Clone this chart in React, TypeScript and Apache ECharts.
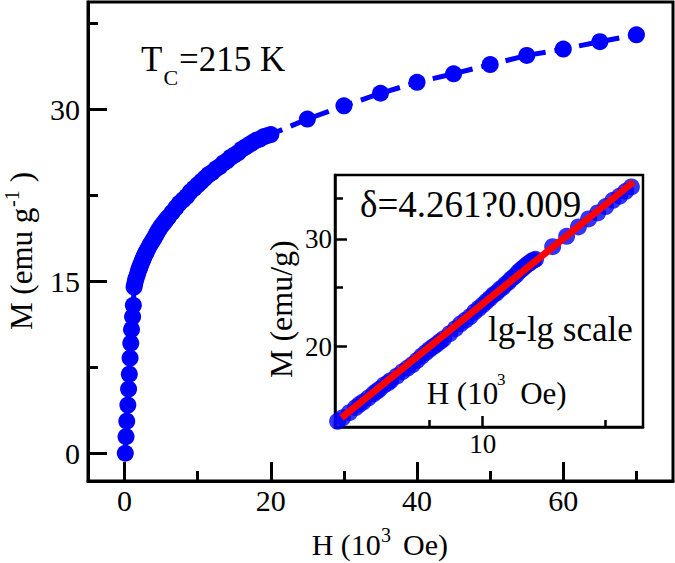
import React, { useEffect, useRef } from "react";
import * as echarts from "echarts";

// Main M–H isotherm (H in 10^3 Oe, M in emu/g)
const fieldH = [
  0.1, 0.2, 0.3, 0.45, 0.55, 0.65, 0.75, 0.85, 0.95, 1.1, 1.2,
  1.3, 1.4, 1.5, 1.6, 1.75, 1.9, 2.0, 2.1, 2.25, 2.4, 2.5, 2.6, 2.75, 2.9, 3.0,
  3.25, 3.5, 3.75, 4.0, 4.25, 4.5, 4.75, 5.0, 5.25, 5.5, 5.75, 6.0, 6.5,
  7.0, 7.5, 8.0, 8.5, 9.0, 9.5, 10.0, 10.5, 11.0, 11.5, 12.0, 12.5, 13.0, 13.5,
  14.0, 14.5, 15.0, 15.5, 16.0, 16.5, 17.0, 17.5, 18.0, 18.5, 19.0, 19.5, 20.0,
  25, 30, 35, 40, 45, 50, 55, 60, 65, 70,
];
const magM = [
  0, 1.45, 2.8, 4.2, 5.6, 6.9, 8.3, 9.6, 10.8, 11.9, 12.9,
  14.5, 14.8, 15.1, 15.3, 15.6, 15.9, 16.1, 16.25, 16.5, 16.75, 16.9, 17.05, 17.3, 17.45, 17.6,
  17.9, 18.2, 18.45, 18.7, 19.0, 19.3, 19.55, 19.8, 20.0, 20.2, 20.4, 20.6, 21.0,
  21.4, 21.8, 22.1, 22.4, 22.8, 23.1, 23.4, 23.7, 24.0, 24.3, 24.5, 24.8, 25.0, 25.3,
  25.5, 25.8, 26.0, 26.2, 26.5, 26.7, 26.9, 27.1, 27.3, 27.4, 27.6, 27.7, 27.8,
  29.15, 30.3, 31.4, 32.35, 33.1, 33.9, 34.7, 35.25, 35.9, 36.5,
];

// Fit line (log-log) end points
const fitH = [1.58, 72];
const fitM = [15.3, 37.2];

// Tick values
const mainXMajor = [0, 20, 40, 60];
const mainXMinor = [10, 30, 50, 70];
const mainYMajor = [0, 15, 30];
const mainYMinor = [7.5, 22.5, 37.5];
const insetXMajor = [10];
const insetXMinor = [5, 50];
const insetYMajor = [20, 30];
const insetYMinor = [25, 35];

const FONT = "Liberation Serif";
const BLUE = "#0000ff";
const RED = "#ff0000";

const lg = (v: number) => Math.log10(v);

function txt(text: string, x: number, y: number, size: number, align = "left", rotation = 0) {
  return {
    type: "text",
    x,
    y,
    rotation,
    z: 100,
    style: {
      text,
      fontSize: size,
      fontFamily: FONT,
      fill: "#000",
      align,
      textAlign: align,
      verticalAlign: "middle",
      textVerticalAlign: "middle",
    },
  };
}

export default function App() {
  const ref = useRef<HTMLDivElement>(null);
  useEffect(() => {
    document.body.style.margin = "0";
    if (!ref.current) return;
    const chart = echarts.init(ref.current, undefined, { renderer: "svg" });

    const mainData = fieldH.map((h, i) => [h, magM[i]]);
    const insetData = fieldH
      .map((h, i) => [h, magM[i]])
      .filter((p) => p[0] >= 1.5)
      .map((p) => [lg(p[0]), lg(p[1])]);
    const fitData = fitH.map((h, i) => [lg(h), lg(fitM[i])]);

    const axisBase = (extra: any) => ({
      type: "value",
      splitLine: { show: false },
      ...extra,
    });

    const mainLbl = { color: "#000", fontSize: 30, fontFamily: FONT };
    const insetLbl = { color: "#000", fontSize: 27, fontFamily: FONT };
    const line = (w: number, show = true) => ({ show, onZero: false, lineStyle: { color: "#000", width: w } });

    const option: any = {
      animation: false,
      grid: [
        { left: 88, top: 2, width: 585, height: 479, show: true, borderColor: "#000", borderWidth: 3, backgroundColor: "transparent" },
        { left: 335, top: 175, width: 308, height: 252, show: true, borderColor: "#000", borderWidth: 2.5, backgroundColor: "#fff" },
      ],
      xAxis: [
        axisBase({
          gridIndex: 0, min: -5, max: 75, position: "bottom",
          axisLine: line(3),
          axisTick: { show: true, inside: true, length: 19, customValues: mainXMajor, lineStyle: { color: "#000", width: 3 } },
          axisLabel: { ...mainLbl, margin: 4, customValues: mainXMajor },
        }),
        axisBase({
          gridIndex: 0, min: -5, max: 75, position: "bottom",
          axisLine: line(3, false),
          axisTick: { show: true, inside: true, length: 10, customValues: mainXMinor, lineStyle: { color: "#000", width: 3 } },
          axisLabel: { show: false },
        }),
        axisBase({
          gridIndex: 1, min: 0.1614, max: 1.911, position: "bottom",
          axisLine: line(2.5),
          axisTick: { show: true, inside: true, length: 11, customValues: insetXMajor.map(lg), lineStyle: { color: "#000", width: 2.5 } },
          axisLabel: { ...insetLbl, margin: 3, customValues: insetXMajor.map(lg), formatter: (v: number) => String(Math.round(Math.pow(10, v))) },
        }),
        axisBase({
          gridIndex: 1, min: 0.1614, max: 1.911, position: "bottom",
          axisLine: line(2.5, false),
          axisTick: { show: true, inside: true, length: 7, customValues: insetXMinor.map(lg), lineStyle: { color: "#000", width: 2.5 } },
          axisLabel: { show: false },
        }),
      ],
      yAxis: [
        axisBase({
          gridIndex: 0, min: -2.42, max: 39.36, position: "left",
          axisLine: line(3),
          axisTick: { show: true, inside: true, length: 19, customValues: mainYMajor, lineStyle: { color: "#000", width: 3 } },
          axisLabel: { ...mainLbl, margin: 8, customValues: mainYMajor },
        }),
        axisBase({
          gridIndex: 0, min: -2.42, max: 39.36, position: "left",
          axisLine: line(3, false),
          axisTick: { show: true, inside: true, length: 10, customValues: mainYMinor, lineStyle: { color: "#000", width: 3 } },
          axisLabel: { show: false },
        }),
        axisBase({
          gridIndex: 1, min: 1.1697, max: 1.5818, position: "left",
          axisLine: line(2.5),
          axisTick: { show: true, inside: true, length: 12, customValues: insetYMajor.map(lg), lineStyle: { color: "#000", width: 2.5 } },
          axisLabel: { ...insetLbl, margin: 3, customValues: insetYMajor.map(lg), formatter: (v: number) => String(Math.round(Math.pow(10, v))) },
        }),
        axisBase({
          gridIndex: 1, min: 1.1697, max: 1.5818, position: "left",
          axisLine: line(2.5, false),
          axisTick: { show: true, inside: true, length: 8, customValues: insetYMinor.map(lg), lineStyle: { color: "#000", width: 2.5 } },
          axisLabel: { show: false },
        }),
      ],
      series: [
        {
          type: "line",
          xAxisIndex: 0,
          yAxisIndex: 0,
          data: mainData,
          symbol: "circle",
          symbolSize: 17,
          showAllSymbol: true,
          itemStyle: { color: BLUE },
          lineStyle: { color: BLUE, width: 5, type: [16, 9] },
          z: 3,
        },
        {
          type: "scatter",
          xAxisIndex: 2,
          yAxisIndex: 2,
          data: insetData,
          symbol: "circle",
          symbolSize: 17,
          itemStyle: { color: BLUE },
          z: 4,
        },
        {
          type: "line",
          xAxisIndex: 2,
          yAxisIndex: 2,
          data: fitData,
          symbol: "none",
          lineStyle: { color: RED, width: 7 },
          z: 5,
        },
      ],
      graphic: [
        // T_C = 215 K
        txt("T", 141, 59.2, 35),
        txt("C", 163.5, 77, 22),
        txt("=215 K", 179, 59.2, 35),
        // delta
        txt("δ=4.261?0.009", 360, 204.8, 37),
        txt("lg-lg scale", 488, 329.9, 35),
        // inset x name
        txt("H (10", 426.7, 393.5, 31),
        txt("3", 497, 379.3, 17),
        txt("Oe)", 566.7, 393.5, 31, "right"),
        // main x name
        txt("H (10", 311.7, 544.9, 30),
        txt("3", 381, 535, 20),
        txt("Oe)", 448, 544.9, 30, "right"),
        // main y name
        txt("M (emu g", 21.2, 330, 31, "left", Math.PI / 2),
        txt("-1", 12, 207, 20, "left", Math.PI / 2),
        txt(")", 21.2, 172, 31, "right", Math.PI / 2),
        // inset y name
        txt("M (emu/g)", 280.9, 309.2, 32, "center", Math.PI / 2),
      ],
    };
    chart.setOption(option);
    return () => chart.dispose();
  }, []);
  return <div ref={ref} style={{ width: 675, height: 563 }} />;
}
